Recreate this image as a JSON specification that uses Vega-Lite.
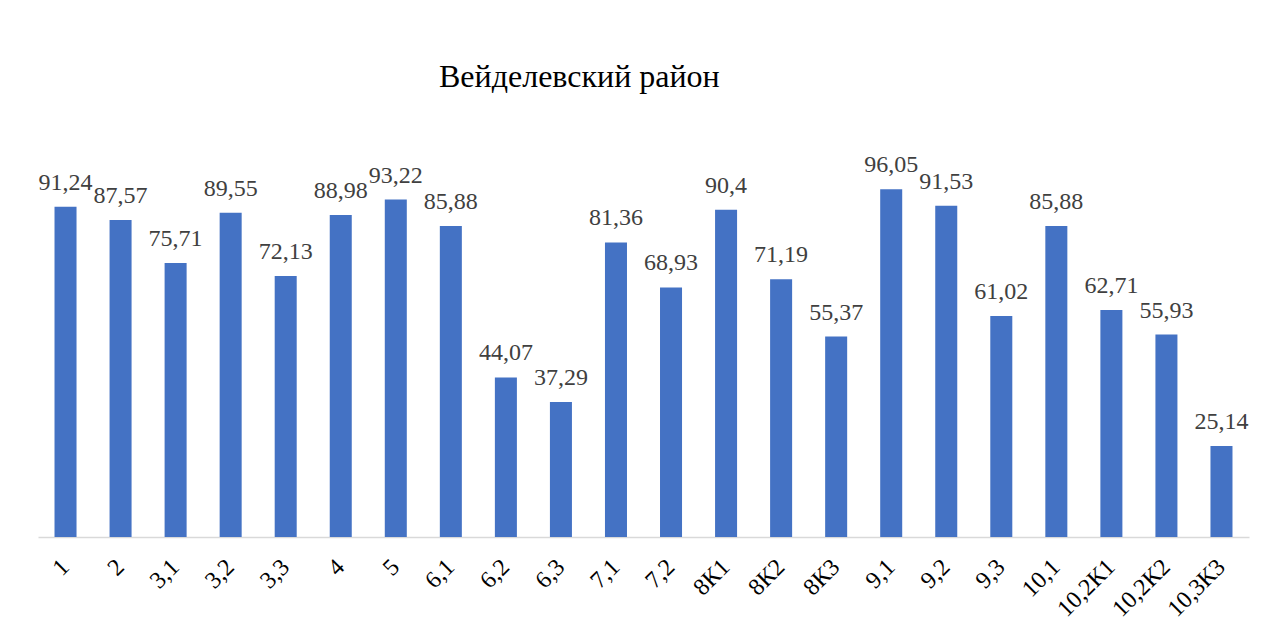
{
  "$schema": "https://vega.github.io/schema/vega-lite/v6.json",
  "autosize": "none",
  "width": 1211,
  "height": 362,
  "padding": {"left": 38, "top": 175, "right": 18, "bottom": 100},
  "background": "white",
  "config": {
    "view": {"stroke": null},
    "locale": {"number": {"decimal": ",", "thousands": " ", "grouping": [3], "currency": ["", ""]}}
  },
  "title": {"text": "Вейделевский район", "anchor": "start", "dx": 401, "offset": 59, "fontSize": 32, "font": "Liberation Serif", "fontWeight": "normal", "color": "#000000"},
  "data": {"values": [
    {"cat": "1", "v": 91.24}, {"cat": "2", "v": 87.57}, {"cat": "3,1", "v": 75.71}, {"cat": "3,2", "v": 89.55},
    {"cat": "3,3", "v": 72.13}, {"cat": "4", "v": 88.98}, {"cat": "5", "v": 93.22}, {"cat": "6,1", "v": 85.88},
    {"cat": "6,2", "v": 44.07}, {"cat": "6,3", "v": 37.29}, {"cat": "7,1", "v": 81.36}, {"cat": "7,2", "v": 68.93},
    {"cat": "8К1", "v": 90.4}, {"cat": "8К2", "v": 71.19}, {"cat": "8К3", "v": 55.37}, {"cat": "9,1", "v": 96.05},
    {"cat": "9,2", "v": 91.53}, {"cat": "9,3", "v": 61.02}, {"cat": "10,1", "v": 85.88}, {"cat": "10,2К1", "v": 62.71},
    {"cat": "10,2К2", "v": 55.93}, {"cat": "10,3К3", "v": 25.14}
  ]},
  "encoding": {
    "x": {"field": "cat", "type": "nominal", "sort": null,
      "scale": {"paddingInner": 0.6, "paddingOuter": 0.3},
      "axis": {"title": null, "labelAngle": -45, "labelAlign": "right", "labelBaseline": "middle", "labelFont": "Liberation Serif", "labelFontSize": 24, "labelColor": "#000000", "ticks": false, "domainColor": "#D9D9D9", "domainWidth": 1.5, "labelPadding": 26, "labelOverlap": false}},
    "y": {"field": "v", "type": "quantitative", "scale": {"domain": [0, 100]}, "axis": null}
  },
  "layer": [
    {"mark": {"type": "bar", "color": "#4472C4"}},
    {"mark": {"type": "text", "baseline": "alphabetic", "dy": -17, "font": "Liberation Serif", "fontSize": 24, "color": "#404040"},
     "encoding": {"text": {"field": "v", "type": "quantitative", "format": ".4~r"}}}
  ]
}
